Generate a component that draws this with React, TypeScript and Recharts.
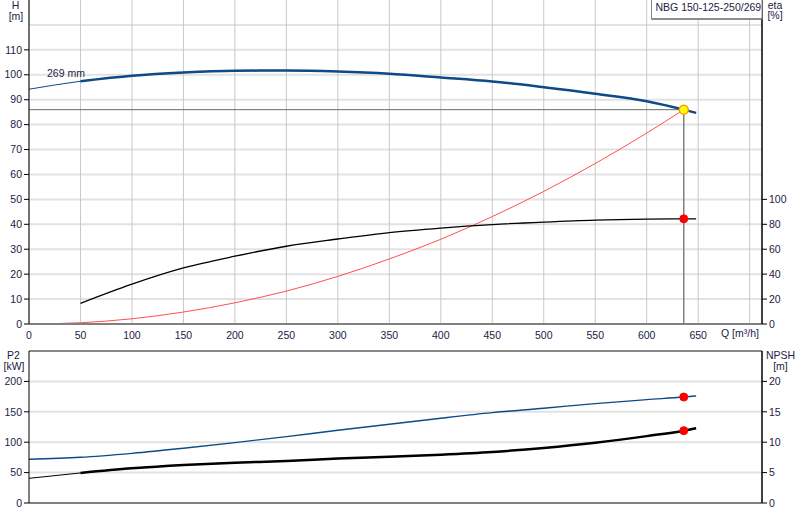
import React from "react";
import {
  ComposedChart,
  Line,
  XAxis,
  YAxis,
  CartesianGrid,
  ReferenceLine,
  ReferenceDot,
} from "recharts";

// flow grid (m³/h)
const qTicks = [0, 50, 100, 150, 200, 250, 300, 350, 400, 450, 500, 550, 600, 650];
const qGrid = [0, 50, 100, 150, 200, 250, 300, 350, 400, 450, 500, 550, 600, 650, 700];

// pump curve H [m], 269 mm impeller
const qHead = [0, 50, 100, 150, 200, 250, 300, 350, 400, 450, 500, 550, 600, 636, 648];
const head = [94.2, 97.4, 99.6, 100.9, 101.6, 101.7, 101.3, 100.4, 98.9, 97.3, 95.0, 92.4, 89.4, 86.0, 84.7];

// efficiency eta [%]
const qEta = [50, 100, 150, 200, 250, 300, 350, 400, 450, 500, 550, 600, 636, 648];
const eta = [16.6, 32.0, 45.0, 54.4, 62.4, 68.2, 73.4, 77.0, 79.8, 81.8, 83.4, 84.2, 84.4, 84.4];

// system curve H [m]
const qSys = [0, 50, 100, 150, 200, 250, 300, 350, 400, 450, 500, 550, 600, 636];
const sysHead = [0, 0.5, 2.1, 4.8, 8.5, 13.2, 19.1, 26.1, 34.0, 43.1, 53.2, 64.4, 76.6, 86.0];

// shaft power P2 [kW]
const qPower = [0, 50, 100, 150, 200, 250, 300, 350, 400, 450, 500, 550, 600, 636, 648];
const power = [72, 75.2, 81.7, 90, 99.3, 109.2, 119.6, 129.5, 139.5, 148.7, 155.8, 163.5, 170, 174.3, 176];

// NPSH [m]
const qNpsh = [0, 50, 100, 150, 200, 250, 300, 350, 400, 450, 500, 550, 600, 636, 648];
const npsh = [4.06, 4.94, 5.7, 6.25, 6.64, 6.9, 7.3, 7.6, 7.95, 8.4, 9.05, 9.9, 11.0, 11.9, 12.3];

// duty point
const dutyQ = 636;
const dutyH = 86;
const dutyEta = 84.4;
const dutyP2 = 174.3;
const dutyNpsh = 11.9;

const hTicks = [0, 10, 20, 30, 40, 50, 60, 70, 80, 90, 100, 110];
const hGrid = [10, 20, 30, 40, 50, 60, 70, 80, 90, 100, 110, 120];
const etaTicks = [0, 20, 40, 60, 80, 100];
const p2Ticks = [0, 50, 100, 150, 200];
const p2Grid = [50, 100, 150, 200];
const npshTicks = [0, 5, 10, 15, 20];

const toPoints = (qs: number[], vs: number[]) => qs.map((q, i) => ({ q, v: vs[i] }));

const headData = toPoints(qHead, head);
const etaData = toPoints(qEta, eta);
const sysData = toPoints(qSys, sysHead);
const powerData = toPoints(qPower, power);
const npshData = toPoints(qNpsh, npsh);

const FONT = "'Liberation Sans', Arial, sans-serif";
const TEXT = "#1c1c44";
const tickStyle = { fill: TEXT, fontSize: 10.5, fontFamily: FONT };

export default function App() {
  return (
    <div style={{ position: "absolute", left: 0, top: 0, width: 800, height: 520, background: "#fff" }}>
      {/* Q-H / eta chart */}
      <div style={{ position: "absolute", left: 0, top: 0 }}>
        <ComposedChart width={800} height={345} margin={{ top: 0, right: 0, bottom: 0, left: 0 }}>
          <CartesianGrid yAxisId="h" vertical={false} horizontalValues={hGrid} stroke="#e2e2e2" strokeWidth={2} />
          <CartesianGrid yAxisId="h" horizontal={false} verticalValues={qGrid} stroke="#c8c8c8" />
          <XAxis
            dataKey="q"
            type="number"
            domain={[0, 712]}
            ticks={qGrid}
            tickFormatter={(v) => (v === 700 ? "" : String(v))}
            height={21}
            tickLine={false}
            tickSize={0}
            tickMargin={8}
            axisLine={{ stroke: "#808080", strokeWidth: 2 }}
            tick={tickStyle}
            allowDataOverflow
          />
          <YAxis
            yAxisId="h"
            type="number"
            domain={[0, 130]}
            ticks={hTicks}
            width={29}
            tickSize={5}
            tickMargin={2}
            axisLine={{ stroke: "#000" }}
            tickLine={{ stroke: "#000" }}
            tick={tickStyle}
          />
          <YAxis
            yAxisId="eta"
            orientation="right"
            type="number"
            domain={[0, 260]}
            ticks={etaTicks}
            width={38}
            tickSize={5}
            tickMargin={2}
            axisLine={{ stroke: "#000", strokeWidth: 1.5 }}
            tickLine={{ stroke: "#000" }}
            tick={tickStyle}
          />
          <ReferenceLine
            yAxisId="h"
            segment={[{ x: 0, y: dutyH }, { x: dutyQ, y: dutyH }]}
            stroke="#6a6a6a"
          />
          <ReferenceLine
            yAxisId="h"
            segment={[{ x: dutyQ, y: 0 }, { x: dutyQ, y: dutyH }]}
            stroke="#808080"
            strokeWidth={1.5}
          />
          <Line yAxisId="h" data={sysData} dataKey="v" type="monotone" stroke="#ff5050" strokeWidth={1} dot={false} isAnimationActive={false} />
          <Line yAxisId="eta" data={etaData} dataKey="v" type="monotone" stroke="#000" strokeWidth={1.3} dot={false} isAnimationActive={false} />
          <Line yAxisId="h" data={headData} dataKey="v" type="monotone" stroke="#0d4a86" strokeWidth={1} dot={false} isAnimationActive={false} />
          <Line yAxisId="h" data={headData.slice(1)} dataKey="v" type="monotone" stroke="#0d4a86" strokeWidth={2.5} dot={false} isAnimationActive={false} />
          <ReferenceDot yAxisId="eta" x={dutyQ} y={dutyEta} r={4} fill="#ff0000" stroke="#ff0000" />
          <ReferenceDot yAxisId="h" x={dutyQ} y={dutyH} r={4.5} fill="#ffff00" stroke="#ff9a00" strokeWidth={1.5} />
        </ComposedChart>
      </div>

      {/* P2 / NPSH chart */}
      <div style={{ position: "absolute", left: 0, top: 340 }}>
        <ComposedChart width={800} height={180} margin={{ top: 11, right: 0, bottom: 0, left: 0 }}>
          <CartesianGrid yAxisId="p2" vertical={false} horizontalValues={p2Grid} stroke="#e2e2e2" strokeWidth={2} />
          <CartesianGrid yAxisId="p2" horizontal={false} verticalValues={qGrid} stroke="#c8c8c8" />
          <XAxis
            dataKey="q"
            type="number"
            domain={[0, 712]}
            ticks={qTicks}
            height={17}
            tick={false}
            tickLine={false}
            axisLine={{ stroke: "#808080", strokeWidth: 2 }}
            allowDataOverflow
          />
          <YAxis
            yAxisId="p2"
            type="number"
            domain={[0, 250]}
            ticks={p2Ticks}
            width={29}
            tickSize={5}
            tickMargin={2}
            axisLine={{ stroke: "#000" }}
            tickLine={{ stroke: "#000" }}
            tick={tickStyle}
          />
          <YAxis
            yAxisId="npsh"
            orientation="right"
            type="number"
            domain={[0, 25]}
            ticks={npshTicks}
            width={38}
            tickSize={5}
            tickMargin={2}
            axisLine={{ stroke: "#000", strokeWidth: 1.5 }}
            tickLine={{ stroke: "#000" }}
            tick={tickStyle}
          />
          <ReferenceLine yAxisId="p2" y={250} stroke="#606060" strokeWidth={1.5} />
          <Line yAxisId="p2" data={powerData} dataKey="v" type="monotone" stroke="#0d4a86" strokeWidth={1.4} dot={false} isAnimationActive={false} />
          <Line yAxisId="npsh" data={npshData} dataKey="v" type="monotone" stroke="#000" strokeWidth={1} dot={false} isAnimationActive={false} />
          <Line yAxisId="npsh" data={npshData.slice(1)} dataKey="v" type="monotone" stroke="#000" strokeWidth={2.5} dot={false} isAnimationActive={false} />
          <ReferenceDot yAxisId="p2" x={dutyQ} y={dutyP2} r={4} fill="#ff0000" stroke="#ff0000" />
          <ReferenceDot yAxisId="npsh" x={dutyQ} y={dutyNpsh} r={4} fill="#ff0000" stroke="#ff0000" />
        </ComposedChart>
      </div>

      {/* axis titles, curve label and pump name */}
      <svg
        width={800}
        height={520}
        style={{ position: "absolute", left: 0, top: 0, pointerEvents: "none" }}
        fontFamily={FONT}
        fontSize={10.5}
        fill={TEXT}
      >
        <text x={15.5} y={8.5} textAnchor="middle">H</text>
        <text x={16} y={19.5} textAnchor="middle">[m]</text>
        <text x={775} y={8.5} textAnchor="middle">eta</text>
        <text x={775} y={19} textAnchor="middle">[%]</text>
        <text x={47} y={76.5}>269 mm</text>
        <text x={721} y={337}>Q [m³/h]</text>
        <text x={13.5} y={359} textAnchor="middle">P2</text>
        <text x={14} y={370} textAnchor="middle">[kW]</text>
        <text x={780.5} y={359} textAnchor="middle">NPSH</text>
        <text x={780.5} y={370} textAnchor="middle">[m]</text>
        <rect x={651.5} y={-1} width={110.5} height={20} fill="#fff" stroke="#8a8a8a" />
        <line x1={651.5} y1={19} x2={762} y2={19} stroke="#555" />
        <text x={655.5} y={11}>NBG 150-125-250/269</text>
      </svg>
    </div>
  );
}
